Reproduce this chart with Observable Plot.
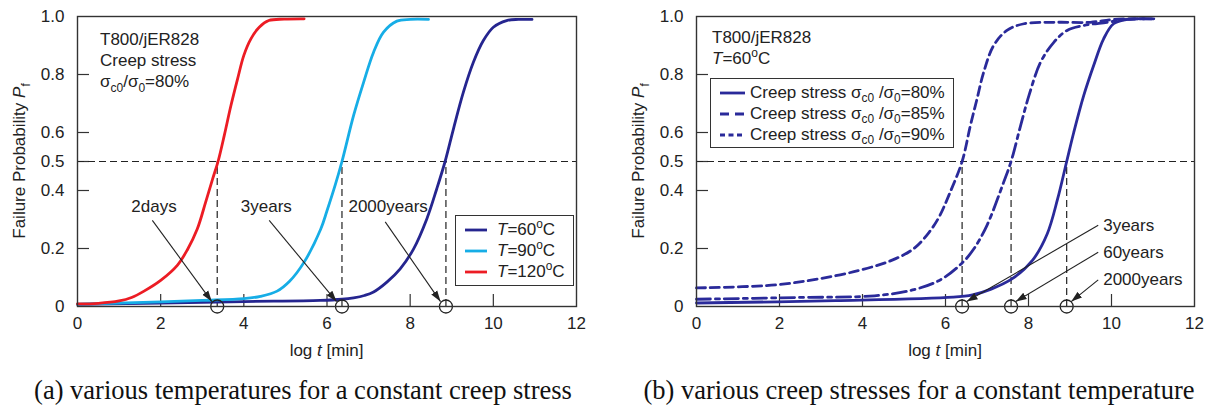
<!DOCTYPE html>
<html>
<head>
<meta charset="utf-8">
<script src="https://cdn.jsdelivr.net/npm/d3@7"></script>
<script src="https://cdn.jsdelivr.net/npm/@observablehq/plot@0.6"></script>
<style>
  html,body{margin:0;padding:0;background:#fff;}
  body{width:1211px;height:407px;position:relative;overflow:hidden;font-family:"Liberation Sans",Arial,sans-serif;color:#222;}
  .panel{position:absolute;top:0;}
  .caption{position:absolute;top:377px;line-height:1;font-family:"Liberation Serif","Times New Roman",serif;font-size:26.5px;white-space:nowrap;transform:translateX(-50%);color:#111;}
  .legend{position:absolute;border:1.3px solid #333;background:#fff;font-size:17px;box-sizing:border-box;}
  .legend .row{display:flex;align-items:center;white-space:nowrap;height:21px;}
  .legend svg{flex:none;}
  .legend sub,.legend sup{font-size:70%;line-height:0;}
</style>
</head>
<body>
<div id="pa" class="panel" style="left:0px"></div>
<div id="pb" class="panel" style="left:619px"></div>
<div id="lega" class="legend" style="left:455px;top:215px;width:119px;height:71px;padding:3px 0 0 9px"></div>
<div id="legb" class="legend" style="left:710px;top:78px;width:244px;height:70px;padding:3px 0 0 9px"></div>
<div class="caption" style="left:303px">(a) various temperatures for a constant creep stress</div>
<div class="caption" style="left:919px">(b) various creep stresses for a constant temperature</div>
<script>
// ---------------- shared axes ----------------
const xTicks = [0, 2, 4, 6, 8, 10, 12];
const yTicks = [0, 0.2, 0.4, 0.5, 0.6, 0.8, 1.0];
const yTickLabels = ["0", "0.2", "0.4", "0.5", "0.6", "0.8", "1.0"];
const halfProb = [0.5];

// ---------------- panel (a): temperatures ----------------
const a_T60_logt = [0, 2, 4, 5.84, 6.36, 6.64, 6.9, 7.12, 7.44, 7.76, 8.08, 8.4, 8.64, 8.84, 9.04, 9.28, 9.52, 9.76, 10.0, 10.32, 10.6, 10.93];
const a_T60_pf   = [0.007, 0.012, 0.017, 0.021, 0.025, 0.03, 0.038, 0.05, 0.084, 0.13, 0.198, 0.302, 0.406, 0.5, 0.612, 0.739, 0.842, 0.917, 0.963, 0.986, 0.99, 0.99];
const a_T90_logt = [0, 1, 2, 3, 4, 4.4, 4.8, 5.1, 5.45, 5.85, 6.0, 6.2, 6.36, 6.64, 6.88, 7.12, 7.36, 7.68, 8.0, 8.44];
const a_T90_pf   = [0.008, 0.012, 0.016, 0.021, 0.027, 0.035, 0.053, 0.087, 0.153, 0.267, 0.33, 0.42, 0.5, 0.659, 0.773, 0.877, 0.946, 0.984, 0.99, 0.99];
const a_T120_logt = [0, 0.5, 1.0, 1.3, 1.6, 2.0, 2.4, 2.64, 2.88, 3.08, 3.25, 3.38, 3.53, 3.69, 3.85, 4.0, 4.17, 4.37, 4.6, 4.97, 5.45];
const a_T120_pf   = [0.009, 0.011, 0.019, 0.031, 0.053, 0.09, 0.142, 0.195, 0.267, 0.359, 0.44, 0.5, 0.59, 0.693, 0.785, 0.866, 0.923, 0.963, 0.986, 0.991, 0.992];
const a_seriesNames = ["T=60°C", "T=90°C", "T=120°C"];
const a_colors = ["#25258f", "#16ade6", "#ec1c24"];

const a_markLogt = [3.36, 6.36, 8.86];
const a_labels = ["2days", "3years", "2000years"];
const a_labelX = [1.84, 4.54, 7.47];
const a_labelY = [0.343, 0.343, 0.343];
const a_arrowX1 = [1.80, 4.61, 7.40];
const a_arrowY1 = [0.297, 0.297, 0.292];
const a_arrowX2 = [3.23, 6.23, 8.73];
const a_arrowY2 = [0.017, 0.017, 0.017];

// ---------------- panel (b): creep stresses ----------------
const b_s80_logt = [0, 3.35, 6.18, 6.65, 7.1, 7.6, 8.1, 8.45, 8.7, 8.92, 9.09, 9.33, 9.57, 9.81, 10.05, 10.38, 11.02];
const b_s80_pf   = [0.012, 0.02, 0.032, 0.04, 0.06, 0.095, 0.16, 0.25, 0.37, 0.5, 0.6, 0.727, 0.831, 0.923, 0.975, 0.99, 0.992];
const b_s85_logt = [0, 2.4, 4.29, 5.24, 5.9, 6.4, 6.68, 7.0, 7.4, 7.58, 7.81, 8.01, 8.29, 8.61, 8.93, 9.33, 9.89, 10.38, 10.9];
const b_s85_pf   = [0.025, 0.031, 0.037, 0.058, 0.094, 0.15, 0.198, 0.28, 0.428, 0.5, 0.624, 0.727, 0.842, 0.911, 0.952, 0.969, 0.98, 0.99, 0.992];
const b_s90_logt = [0, 1.93, 3.35, 4.29, 4.8, 5.24, 5.6, 5.85, 6.1, 6.4, 6.6, 6.76, 6.92, 7.16, 7.48, 7.89, 8.69, 9.49, 10.05, 11.0];
const b_s90_pf   = [0.064, 0.075, 0.106, 0.139, 0.165, 0.2, 0.255, 0.31, 0.39, 0.5, 0.624, 0.716, 0.808, 0.9, 0.952, 0.975, 0.98, 0.98, 0.99, 0.992];
const b_ratios = ["80%", "85%", "90%"];
const b_color = "#2a2a9a";
const b_curveDash = [null, "14,5,4,5", "9,5"];
const b_legendDash = [null, "9,6", "5,3.5"];

const b_markLogt = [6.4, 7.58, 8.92];
const b_labels = ["3years", "60years", "2000years"];
const b_labelX = [9.8, 9.8, 9.8];
const b_labelY = [0.28, 0.187, 0.093];
const b_arrowX1 = [9.68, 9.68, 9.68];
const b_arrowY1 = [0.28, 0.187, 0.092];
const b_arrowX2 = [6.51, 7.69, 9.03];
const b_arrowY2 = [0.017, 0.017, 0.017];

// ---------------- helpers ----------------
const zip = (xs, ys) => xs.map((x, i) => ({x, y: ys[i]}));
const ink = "#222";
const frameInk = "#333";
const H = 362, MT = 16, MB = 56, ML = 77;

function arrowRows(x1, y1, x2, y2) { return x1.map((_, i) => ({x1: x1[i], y1: y1[i], x2: x2[i], y2: y2[i]})); }
function labelRows(t, x, y) { return t.map((s, i) => ({t: s, x: x[i], y: y[i]})); }

function richText(sel, x, y, parts, attrs = {}) {
  const t = sel.append("text").attr("x", x).attr("y", y).attr("fill", ink)
    .attr("text-anchor", "start")
    .attr("font-family", "Liberation Sans, Arial, sans-serif").attr("font-size", 17);
  for (const [k, v] of Object.entries(attrs)) t.attr(k, v);
  let shift = 0;
  for (const p of parts) {
    const target = p.sub ? 5 : p.sup ? -7 : 0;
    const s = t.append("tspan").text(p.t).attr("dy", target - shift);
    shift = target;
    if (p.sub || p.sup) s.attr("font-size", 12);
    if (p.it) s.attr("font-style", "italic");
  }
  return t;
}

function panel({width, marginRight, lines, marks, labels, arrows, labelAnchor}) {
  const plotW = width - ML - marginRight, plotH = H - MT - MB;
  const svg = Plot.plot({
    width, height: H,
    marginLeft: ML, marginRight, marginTop: MT, marginBottom: MB,
    style: {fontFamily: "Liberation Sans, Arial, sans-serif", fontSize: "17px", color: ink, background: "transparent", overflow: "visible"},
    x: {domain: [0, 12], ticks: xTicks, tickSize: 0, tickPadding: 10, label: null, tickFormat: d => String(d)},
    y: {domain: [0, 1], ticks: yTicks, tickSize: 0, tickPadding: 13, label: null, tickFormat: d => yTickLabels[yTicks.indexOf(d)]},
    marks: [
      Plot.tickX(xTicks.slice(1, -1), {x: d => d, insetTop: plotH - 12, stroke: frameInk, strokeWidth: 1.2}),
      Plot.tickY(yTicks.slice(1, -1), {y: d => d, insetRight: plotW - 12, stroke: frameInk, strokeWidth: 1.2}),
      Plot.ruleY(halfProb, {y: d => d, stroke: ink, strokeWidth: 1.2, strokeDasharray: "7,4"}),
      Plot.ruleX(marks, {x: d => d, y1: 0, y2: 0.5, stroke: ink, strokeWidth: 1.2, strokeDasharray: "7,4"}),
      ...lines.map(l => Plot.line(l.data, {x: "x", y: "y", stroke: l.color, strokeWidth: 2.8, strokeDasharray: l.dash, curve: "catmull-rom"})),
      Plot.dot(marks, {x: d => d, y: () => 0, r: 6.5, stroke: ink, strokeWidth: 1.3, fill: "none"}),
      Plot.link(arrows, {x1: "x1", y1: "y1", x2: "x2", y2: "y2", stroke: ink, strokeWidth: 1.1, markerEnd: "arrow"}),
      Plot.text(labels, {x: "x", y: "y", text: "t", fill: ink, fontSize: 17, textAnchor: labelAnchor}),
      Plot.frame({stroke: frameInk, strokeWidth: 1.4})
    ]
  });
  // filled arrowheads
  d3.select(svg).selectAll("marker")
    .attr("viewBox", "-10 -4 10 8").attr("markerWidth", 10).attr("markerHeight", 8)
    .attr("fill", ink).attr("stroke", "none")
    .each(function() { d3.select(this).selectAll("*").remove(); d3.select(this).append("path").attr("d", "M-10,-3.3L0,0L-10,3.3Z").attr("fill", ink); });
  const s = d3.select(svg);
  // axis titles
  richText(s, 0, 6, [{t: "Failure Probability "}, {t: "P", it: true}, {t: "f", sub: true}],
    {transform: `translate(19,${MT + plotH / 2}) rotate(-90)`, "text-anchor": "middle"});
  richText(s, ML + plotW / 2, 356, [{t: "log "}, {t: "t", it: true}, {t: " [min]"}], {"text-anchor": "middle"});
  return svg;
}

// ---------------- panel (a) ----------------
const svgA = panel({
  width: 605, marginRight: 29,
  lines: [
    {data: zip(a_T60_logt, a_T60_pf), color: a_colors[0]},
    {data: zip(a_T90_logt, a_T90_pf), color: a_colors[1]},
    {data: zip(a_T120_logt, a_T120_pf), color: a_colors[2]}
  ],
  marks: a_markLogt,
  labels: labelRows(a_labels, a_labelX, a_labelY),
  arrows: arrowRows(a_arrowX1, a_arrowY1, a_arrowX2, a_arrowY2),
  labelAnchor: "middle"
});
{
  const s = d3.select(svgA);
  richText(s, 100, 45, [{t: "T800/jER828"}]);
  richText(s, 100, 66, [{t: "Creep stress"}]);
  richText(s, 100, 87, [{t: "σ"}, {t: "c0", sub: true}, {t: "/σ"}, {t: "0", sub: true}, {t: "=80%"}]);
}
document.getElementById("pa").append(svgA);

// ---------------- panel (b) ----------------
const svgB = panel({
  width: 592, marginRight: 17,
  lines: [
    {data: zip(b_s80_logt, b_s80_pf), color: b_color, dash: b_curveDash[0]},
    {data: zip(b_s85_logt, b_s85_pf), color: b_color, dash: b_curveDash[1]},
    {data: zip(b_s90_logt, b_s90_pf), color: b_color, dash: b_curveDash[2]}
  ],
  marks: b_markLogt,
  labels: labelRows(b_labels, b_labelX, b_labelY),
  arrows: arrowRows(b_arrowX1, b_arrowY1, b_arrowX2, b_arrowY2),
  labelAnchor: "start"
});
{
  const s = d3.select(svgB);
  richText(s, 93, 43, [{t: "T800/jER828"}]);
  richText(s, 93, 64, [{t: "T", it: true}, {t: "=60"}, {t: "o", sup: true}, {t: "C"}]);
}
document.getElementById("pb").append(svgB);

// ---------------- legends ----------------
function swatch(color, dash, w) {
  return `<svg width="${w}" height="10"><line x1="0" y1="5" x2="${w}" y2="5" stroke="${color}" stroke-width="2.8" ${dash ? `stroke-dasharray="${dash}"` : ""}/></svg>`;
}
document.getElementById("lega").innerHTML = a_seriesNames.map((n, i) => {
  const [, rest] = n.split("=");
  const num = rest.replace("°C", "");
  return `<div class="row">${swatch(a_colors[i], null, 22)}<span style="margin-left:10px"><i>T</i>=${num}<sup>o</sup>C</span></div>`;
}).join("");
document.getElementById("legb").innerHTML = b_ratios.map((r, i) =>
  `<div class="row">${swatch(b_color, b_legendDash[i], 25)}<span style="margin-left:5px">Creep stress σ<sub>c0</sub> /σ<sub>0</sub>=${r}</span></div>`
).join("");
</script>
</body>
</html>
